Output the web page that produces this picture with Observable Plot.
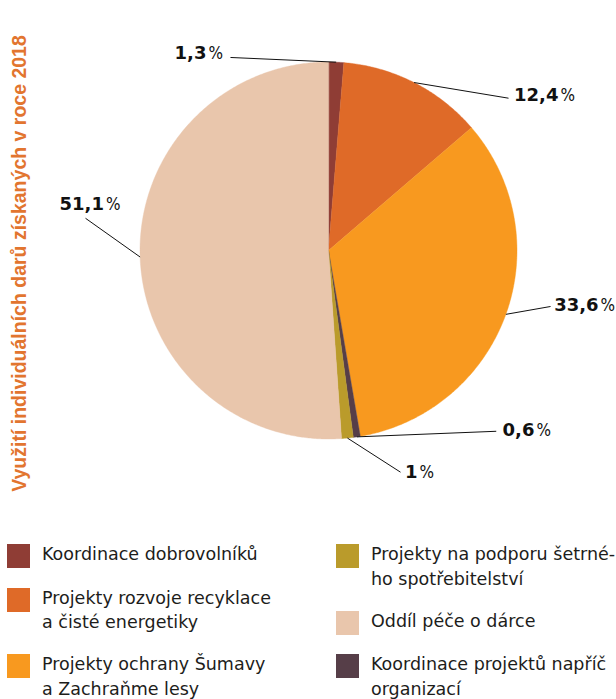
<!DOCTYPE html>
<html>
<head>
<meta charset="utf-8">
<script src="https://cdn.jsdelivr.net/npm/d3@7"></script>
<script src="https://cdn.jsdelivr.net/npm/@observablehq/plot@0.6"></script>
<style>
  html, body { margin: 0; padding: 0; background: #ffffff; }
  #chart svg { display: block; }
  #legend { display: flex; margin-top: 42px; font-family: "DejaVu Sans", sans-serif; font-size: 17.5px; line-height: 24.5px; color: #1d1d1b; }
  .col { display: flex; flex-direction: column; }
  .col1 { width: 329px; padding-left: 7px; }
  .item { display: flex; align-items: flex-start; margin-bottom: 17.5px; }
  .sw { width: 23px; height: 24px; margin-top: 2px; flex: none; }
  .txt { margin-left: 12px; white-space: pre-line; }
</style>
</head>
<body>
<div id="chart"></div>
<div id="legend"></div>
<script>
// ---- data ----
const title = "Využití individuálních darů získaných v roce 2018";
const categories = [
  "Koordinace dobrovolníků",
  "Projekty rozvoje recyklace a čisté energetiky",
  "Projekty ochrany Šumavy a Zachraňme lesy",
  "Koordinace projektů napříč organizací",
  "Projekty na podporu šetrného spotřebitelství",
  "Oddíl péče o dárce"
];
const shares = [1.3, 12.4, 33.6, 0.6, 1.0, 51.1];
const valueLabels = ["1,3", "12,4", "33,6", "0,6", "1", "51,1"];
const colors = ["#8f3d35", "#df6a28", "#f8991f", "#563e48", "#ba9b2b", "#e9c6ac"];

// legend layout (display order, with line breaks)
const legendColumns = [
  [0, 1, 2],
  [4, 5, 3]
];
const legendTexts = [
  "Koordinace dobrovolníků",
  "Projekty rozvoje recyklace\na čisté energetiky",
  "Projekty ochrany Šumavy\na Zachraňme lesy",
  "Koordinace projektů napříč\norganizací",
  "Projekty na podporu šetrné-\nho spotřebitelství",
  "Oddíl péče o dárce"
];

// label layout in pie-radius units: [joinX, joinY, lineEndX, lineEndY]
const labelLayout = [
  [-0.642, -1.045, -0.520, -1.024],
  [1.225, -0.822, 0.955, -0.808],
  [1.438, 0.292, 1.178, 0.297],
  [1.098, 0.955, 0.890, 0.959],
  [0.477, 1.178, 0.382, 1.176],
  [-1.186, -0.244, -1.289, -0.171]
];
const titlePos = [-1.64, 0.069];

// ---- build geometry from values ----
const arcs = d3.pie().sort(null).value(d => d)(shares);
const slicePoints = [];
arcs.forEach((a, i) => {
  const name = categories[i];
  slicePoints.push({name, x: 0, y: 0});
  const n = Math.max(2, Math.ceil((a.endAngle - a.startAngle) / (Math.PI / 360)));
  for (let k = 0; k <= n; k++) {
    const t = a.startAngle + (a.endAngle - a.startAngle) * k / n;
    slicePoints.push({name, x: Math.sin(t), y: -Math.cos(t)});
  }
});
const labels = arcs.map((a, i) => {
  const m = (a.startAngle + a.endAngle) / 2;
  const L = labelLayout[i];
  return {
    name: categories[i], text: valueLabels[i],
    x0: Math.sin(m), y0: -Math.cos(m),
    x1: L[2], y1: L[3], jx: L[0], jy: L[1]
  };
});

const chart = Plot.plot({
  width: 616,
  height: 500,
  style: {fontFamily: "DejaVu Sans, sans-serif", background: "#ffffff", overflow: "visible"},
  x: {domain: [-1, 1], range: [139.5, 516.5], axis: null},
  y: {domain: [-1, 1], range: [61.5, 438.5], axis: null},
  color: {domain: categories, range: colors},
  marks: [
    Plot.line(slicePoints, {x: "x", y: "y", z: "name", fill: "name", stroke: "name", strokeWidth: 0.4, curve: "linear-closed"}),
    Plot.link(labels, {x1: "x0", y1: "y0", x2: "x1", y2: "y1", stroke: "#111111", strokeWidth: 1}),
    Plot.text(labels, {x: "jx", y: "jy", text: "text", textAnchor: "end", dx: -1, fontSize: 18, fontWeight: "bold", fill: "#111111", fontFamily: "DejaVu Sans, sans-serif"}),
    Plot.text(labels, {x: "jx", y: "jy", text: d => "%", textAnchor: "start", dx: 1, fontSize: 17, fill: "#111111", fontFamily: "Liberation Sans Narrow, DejaVu Sans Condensed, sans-serif"}),
    Plot.text([title], {x: () => titlePos[0], y: () => titlePos[1], text: d => d, rotate: -90, fontSize: 19.5, fontWeight: "bold", fill: "#e2752f", fontFamily: "Liberation Sans, Arial, sans-serif"})
  ]
});
document.getElementById("chart").appendChild(chart);

// ---- legend ----
const legend = document.getElementById("legend");
legendColumns.forEach((col, ci) => {
  const c = document.createElement("div");
  c.className = "col" + (ci === 0 ? " col1" : "");
  col.forEach(i => {
    const it = document.createElement("div");
    it.className = "item";
    const sw = document.createElement("div");
    sw.className = "sw";
    sw.style.background = colors[i];
    const tx = document.createElement("div");
    tx.className = "txt";
    tx.textContent = legendTexts[i];
    it.appendChild(sw); it.appendChild(tx);
    c.appendChild(it);
  });
  legend.appendChild(c);
});
</script>
</body>
</html>
